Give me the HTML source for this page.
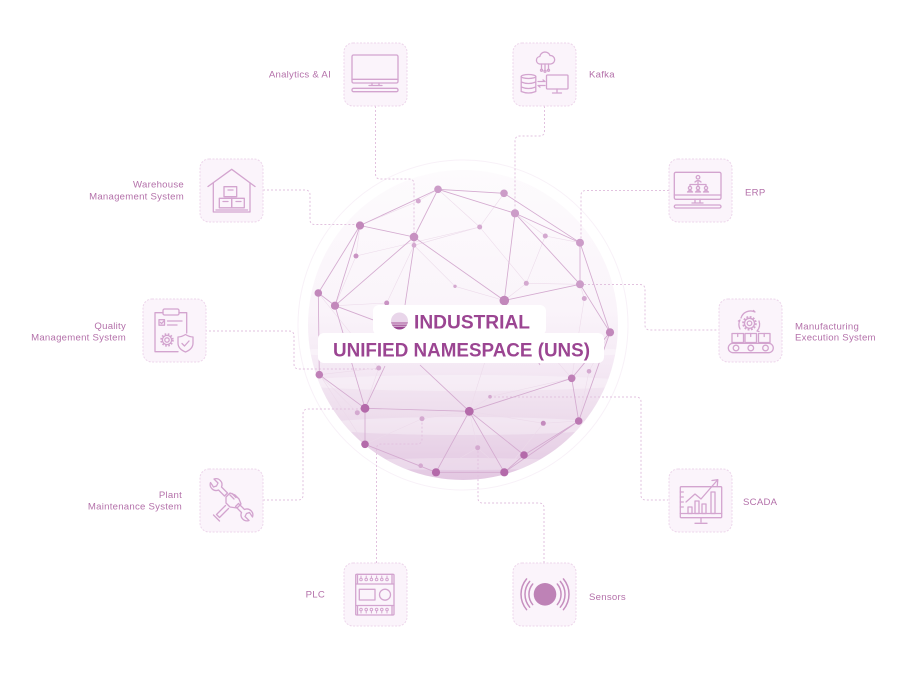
<!DOCTYPE html>
<html><head><meta charset="utf-8"><style>
html,body{margin:0;padding:0;background:#fff;}
svg{display:block;}
.lbl{font-family:"Liberation Sans",sans-serif;font-size:9.6px;fill:#b471aa;letter-spacing:0.25px;}
.box{fill:#fbf4fb;stroke:#edd6eb;stroke-width:1;stroke-dasharray:2 1.5;}
.con{fill:none;stroke:#e2c2df;stroke-width:1;stroke-dasharray:2 2;}
.ic{fill:none;stroke:#d3a4cf;stroke-width:1.3;stroke-linejoin:round;stroke-linecap:round;}
.e{stroke:#d4abd0;stroke-width:0.85;}
.f{stroke:#ecdaea;stroke-width:0.55;}
</style></head><body>
<svg width="905" height="696" viewBox="0 0 905 696" xmlns="http://www.w3.org/2000/svg">
<defs>
<linearGradient id="gg" x1="0" y1="0" x2="0" y2="1">
<stop offset="0" stop-color="#fdfbfd"/>
<stop offset="0.45" stop-color="#faf4fa"/>
<stop offset="0.62" stop-color="#f5eaf5"/>
<stop offset="0.78" stop-color="#eedeed"/>
<stop offset="0.9" stop-color="#e8d2e7"/>
<stop offset="1" stop-color="#e3c8e2"/>
</linearGradient>
<clipPath id="gc"><circle cx="463" cy="325" r="155"/></clipPath>
<clipPath id="tc"><circle cx="399.5" cy="321" r="8.5"/></clipPath>
</defs>

<circle cx="463" cy="325" r="165" fill="none" stroke="#f8f1f8" stroke-width="1"/>
<circle cx="463" cy="325" r="155" fill="url(#gg)"/>
<g clip-path="url(#gc)">
<ellipse cx="463" cy="352" rx="170" ry="6" fill="#ffffff" opacity="0.35"/>
<ellipse cx="463" cy="383" rx="170" ry="8" fill="#ffffff" opacity="0.3"/>
<ellipse cx="463" cy="426" rx="150" ry="9" fill="#ffffff" opacity="0.3"/>
<ellipse cx="463" cy="464" rx="120" ry="6" fill="#ffffff" opacity="0.25"/>
</g>

<path class="con" d="M375.5,106 V174 q0,5 5,5 H409 q5,0 5,5 V237"/>
<path class="con" d="M544.5,106 V131 q0,5 -5,5 H520 q-5,0 -5,5 V213"/>
<path class="con" d="M263,190 H305 q5,0 5,5 V219.5 q0,5 5,5 H360"/>
<path class="con" d="M669,190.5 H586 q-5,0 -5,5 V243"/>
<path class="con" d="M580,284.5 H640 q5,0 5,5 V325 q0,5 5,5 H719"/>
<path class="con" d="M205,331 H289 q5,0 5,5 V364 q0,5 5,5 H379"/>
<path class="con" d="M263,500 H298 q5,0 5,-5 V414 q0,-5 5,-5 H365"/>
<path class="con" d="M376.5,563 V449 q0,-5 5,-5 H417 q5,0 5,-5 V419"/>
<path class="con" d="M544,563 V508 q0,-5 -5,-5 H483 q-5,0 -5,-5 V448"/>
<path class="con" d="M490,397 H636 q5,0 5,5 V495 q0,5 5,5 H668"/>

<g class="f">
<line x1="360" y1="225.5" x2="356" y2="256"/>
<line x1="356" y1="256" x2="479.7" y2="227"/>
<line x1="418.3" y1="201" x2="438" y2="189.3"/>
<line x1="418.3" y1="201" x2="360" y2="225.5"/>
<line x1="479.7" y1="227" x2="504" y2="193.3"/>
<line x1="479.7" y1="227" x2="526.3" y2="283.3"/>
<line x1="479.7" y1="227" x2="414" y2="245.3"/>
<line x1="545.3" y1="236" x2="580" y2="242.7"/>
<line x1="545.3" y1="236" x2="515" y2="213.3"/>
<line x1="545.3" y1="236" x2="526.3" y2="283.3"/>
<line x1="526.3" y1="283.3" x2="580" y2="284.3"/>
<line x1="526.3" y1="283.3" x2="504.3" y2="300.5"/>
<line x1="455" y1="286.3" x2="504.3" y2="300.5"/>
<line x1="455" y1="286.3" x2="414" y2="245.3"/>
<line x1="356" y1="256" x2="335" y2="305.7"/>
<line x1="414" y1="245.3" x2="386.7" y2="303"/>
<line x1="378.7" y1="368" x2="319.3" y2="374.7"/>
<line x1="378.7" y1="368" x2="318.3" y2="293"/>
<line x1="378.7" y1="368" x2="365" y2="408.3"/>
<line x1="490" y1="396.7" x2="469.3" y2="411.3"/>
<line x1="490" y1="396.7" x2="571.7" y2="378.3"/>
<line x1="422" y1="418.7" x2="365" y2="444.3"/>
<line x1="422" y1="418.7" x2="469.3" y2="411.3"/>
<line x1="543.3" y1="423.3" x2="578.7" y2="421"/>
<line x1="543.3" y1="423.3" x2="469.3" y2="411.3"/>
<line x1="543.3" y1="423.3" x2="504.3" y2="472.3"/>
<line x1="477.7" y1="447.7" x2="469.3" y2="411.3"/>
<line x1="477.7" y1="447.7" x2="504.3" y2="472.3"/>
<line x1="477.7" y1="447.7" x2="436" y2="472.3"/>
<line x1="589" y1="371.3" x2="610" y2="332.3"/>
<line x1="589" y1="371.3" x2="578.7" y2="421"/>
<line x1="584.3" y1="298.5" x2="580" y2="284.3"/>
<line x1="584.3" y1="298.5" x2="571.7" y2="378.3"/>
<line x1="357.3" y1="412.7" x2="365" y2="408.3"/>
<line x1="357.3" y1="412.7" x2="319.3" y2="374.7"/>
<line x1="420.7" y1="465.7" x2="365" y2="444.3"/>
<line x1="320" y1="375" x2="365" y2="444.3"/>
<line x1="504.3" y1="300.5" x2="469.3" y2="411.3"/>
<line x1="504.3" y1="300.5" x2="571.7" y2="378.3"/>
<line x1="610" y1="332.3" x2="578.7" y2="421"/>
<line x1="335" y1="305.7" x2="386.7" y2="303"/>
<line x1="438" y1="189.3" x2="479.7" y2="227"/>
</g>

<g class="e">
<line x1="360" y1="225.5" x2="438" y2="189.3"/>
<line x1="438" y1="189.3" x2="414" y2="237"/>
<line x1="360" y1="225.5" x2="414" y2="237"/>
<line x1="360" y1="225.5" x2="318.3" y2="293"/>
<line x1="360" y1="225.5" x2="335" y2="305.7"/>
<line x1="414" y1="237" x2="335" y2="305.7"/>
<line x1="414" y1="237" x2="504.3" y2="300.5"/>
<line x1="414" y1="237" x2="414" y2="245.3"/>
<line x1="414" y1="245.3" x2="405" y2="305"/>
<line x1="438" y1="189.3" x2="504" y2="193.3"/>
<line x1="438" y1="189.3" x2="515" y2="213.3"/>
<line x1="504" y1="193.3" x2="580" y2="242.7"/>
<line x1="515" y1="213.3" x2="580" y2="242.7"/>
<line x1="515" y1="213.3" x2="504.3" y2="300.5"/>
<line x1="515" y1="213.3" x2="580" y2="284.3"/>
<line x1="504.3" y1="300.5" x2="580" y2="284.3"/>
<line x1="580" y1="242.7" x2="580" y2="284.3"/>
<line x1="580" y1="242.7" x2="610" y2="332.3"/>
<line x1="580" y1="284.3" x2="610" y2="332.3"/>
<line x1="318.3" y1="293" x2="335" y2="305.7"/>
<line x1="318.3" y1="293" x2="319.3" y2="374.7"/>
<line x1="335" y1="305.7" x2="365" y2="408.3"/>
<line x1="335" y1="305.7" x2="386.7" y2="325"/>
<line x1="319.3" y1="374.7" x2="365" y2="408.3"/>
<line x1="365" y1="408.3" x2="469.3" y2="411.3"/>
<line x1="365" y1="408.3" x2="365" y2="444.3"/>
<line x1="365" y1="408.3" x2="385" y2="366"/>
<line x1="365" y1="444.3" x2="436" y2="472.3"/>
<line x1="469.3" y1="411.3" x2="571.7" y2="378.3"/>
<line x1="469.3" y1="411.3" x2="504.3" y2="472.3"/>
<line x1="469.3" y1="411.3" x2="436" y2="472.3"/>
<line x1="469.3" y1="411.3" x2="524" y2="455"/>
<line x1="469.3" y1="411.3" x2="420" y2="365"/>
<line x1="571.7" y1="378.3" x2="610" y2="332.3"/>
<line x1="571.7" y1="378.3" x2="578.7" y2="421"/>
<line x1="610" y1="332.3" x2="578.7" y2="421"/>
<line x1="578.7" y1="421" x2="524" y2="455"/>
<line x1="578.7" y1="421" x2="504.3" y2="472.3"/>
<line x1="524" y1="455" x2="504.3" y2="472.3"/>
<line x1="436" y1="472.3" x2="504.3" y2="472.3"/>
<line x1="504.3" y1="300.5" x2="540" y2="365"/>
</g>

<g fill="#d4a9d0">
<circle cx="438" cy="189.3" r="3.8" fill="#cc9cc8"/>
<circle cx="504" cy="193.3" r="3.8" fill="#cc9cc8"/>
<circle cx="515" cy="213.3" r="4.1" fill="#cc9cc8"/>
<circle cx="418.3" cy="201" r="2.5"/>
<circle cx="360" cy="225.5" r="4.1" fill="#c288bb"/>
<circle cx="414" cy="237" r="4.3" fill="#c791c1"/>
<circle cx="414" cy="245.3" r="2.4"/>
<circle cx="479.7" cy="227" r="2.5"/>
<circle cx="545.3" cy="236" r="2.5"/>
<circle cx="580" cy="242.7" r="4" fill="#cc9cc8"/>
<circle cx="356" cy="256" r="2.5" fill="#c993c3"/>
<circle cx="526.3" cy="283.3" r="2.5"/>
<circle cx="455" cy="286.3" r="1.7"/>
<circle cx="580" cy="284.3" r="4" fill="#cc9cc8"/>
<circle cx="584.3" cy="298.5" r="2.5"/>
<circle cx="318.3" cy="293" r="3.8" fill="#c288bb"/>
<circle cx="335" cy="305.7" r="4.1" fill="#c288bb"/>
<circle cx="504.3" cy="300.5" r="4.8" fill="#c288bb"/>
<circle cx="386.7" cy="303" r="2.5" fill="#c993c3"/>
<circle cx="610" cy="332.3" r="4.1" fill="#c288bb"/>
<circle cx="319.3" cy="374.7" r="3.8" fill="#bf80b7"/>
<circle cx="378.7" cy="368" r="2.5"/>
<circle cx="571.7" cy="378.3" r="3.8" fill="#bf80b7"/>
<circle cx="589" cy="371.3" r="2.3"/>
<circle cx="490" cy="396.7" r="1.8"/>
<circle cx="365" cy="408.3" r="4.4" fill="#b46aaa"/>
<circle cx="357.3" cy="412.7" r="2.5"/>
<circle cx="469.3" cy="411.3" r="4.4" fill="#b46aaa"/>
<circle cx="422" cy="418.7" r="2.5"/>
<circle cx="543.3" cy="423.3" r="2.5" fill="#c48bbd"/>
<circle cx="578.7" cy="421" r="3.8" fill="#bb78b2"/>
<circle cx="365" cy="444.3" r="3.8" fill="#b46aaa"/>
<circle cx="477.7" cy="447.7" r="2.5"/>
<circle cx="524" cy="455" r="3.8" fill="#b46aaa"/>
<circle cx="420.7" cy="465.7" r="2.3"/>
<circle cx="436" cy="472.3" r="4.1" fill="#b46aaa"/>
<circle cx="504.3" cy="472.3" r="4.1" fill="#b46aaa"/>
</g>

<rect x="373" y="305" width="173" height="30" rx="6" fill="#ffffff"/>
<rect x="318" y="333" width="286" height="30" rx="6" fill="#ffffff"/>
<g clip-path="url(#tc)">
<rect x="390" y="312" width="20" height="20" fill="#e9d6ea"/>
<rect x="390" y="322" width="20" height="2" fill="#c894c1"/>
<rect x="390" y="324.5" width="20" height="2" fill="#b06aa6"/>
<rect x="390" y="327" width="20" height="4" fill="#9a4591"/>
</g>
<text x="414" y="328.5" font-family="Liberation Sans, sans-serif" font-weight="bold" font-size="19.5" fill="#9b4592" textLength="116" lengthAdjust="spacingAndGlyphs">INDUSTRIAL</text>
<text x="333" y="356.5" font-family="Liberation Sans, sans-serif" font-weight="bold" font-size="19.5" fill="#9b4592" textLength="257" lengthAdjust="spacingAndGlyphs">UNIFIED NAMESPACE (UNS)</text>

<rect class="box" x="344" y="43" width="63" height="63" rx="9"/>
<rect class="box" x="513" y="43" width="63" height="63" rx="9"/>
<rect class="box" x="200" y="159" width="63" height="63" rx="9"/>
<rect class="box" x="669" y="159" width="63" height="63" rx="9"/>
<rect class="box" x="143" y="299" width="63" height="63" rx="9"/>
<rect class="box" x="719" y="299" width="63" height="63" rx="9"/>
<rect class="box" x="200" y="469" width="63" height="63" rx="9"/>
<rect class="box" x="669" y="469" width="63" height="63" rx="9"/>
<rect class="box" x="344" y="563" width="63" height="63" rx="9"/>
<rect class="box" x="513" y="563" width="63" height="63" rx="9"/>

<g class="ic" transform="translate(344,43)">
<rect x="8" y="12" width="46" height="28" rx="1.5"/>
<line x1="8" y1="36.3" x2="54" y2="36.3"/>
<path d="M28,40 v2.5 M35,40 v2.5 M25,42.5 h13"/>
<rect x="8" y="45.3" width="46" height="3.4" rx="1.5"/>
</g>

<g class="ic" transform="translate(513,43)">
<path d="M26.5,21 a3.8,3.8 0 0 1 0.3,-7.5 a5.3,5.3 0 0 1 10.2,-1 a4.2,4.2 0 0 1 0.8,8.5 z"/>
<path d="M28.5,21 v5 M32,21 v6 M35.5,21 v5"/>
<circle cx="28.5" cy="27.3" r="1"/><circle cx="32" cy="28.3" r="1"/><circle cx="35.5" cy="27.3" r="1"/>
<ellipse cx="15.5" cy="33.5" rx="7.3" ry="2"/>
<path d="M8.2,33.5 V48.5 q7.3,3 14.6,0 V33.5 M8.2,39 q7.3,3 14.6,0 M8.2,44 q7.3,3 14.6,0"/>
<path d="M25,38.5 h7 l-2,-1.6 M32,42.5 h-7 l2,1.6"/>
<rect x="33.5" y="32" width="21.5" height="14" rx="1"/>
<path d="M44,46 v3 M39.5,50 h9"/>
</g>

<g class="ic" transform="translate(200,159)">
<path d="M8,27.5 L31.7,10.3 L55,27.5"/>
<path d="M13.3,24 V53 H50 V24"/>
<path d="M16,51 H47.5"/>
<rect x="24" y="27.7" width="12.7" height="10"/>
<rect x="19.3" y="39.3" width="12.4" height="9.5"/>
<rect x="31.7" y="39.3" width="12.6" height="9.5"/>
<path d="M28,31 h5 M23,42.5 h5 M36,42.5 h5"/>
</g>

<g class="ic" transform="translate(669,159)">
<rect x="5.3" y="13.3" width="46.7" height="27" rx="1.5"/>
<line x1="5.3" y1="36" x2="52" y2="36"/>
<path d="M26,40.3 v3.5 M31,40.3 v3.5 M23,44 h11"/>
<rect x="5.3" y="46" width="46.7" height="3" rx="1.5"/>
<circle cx="29" cy="18.3" r="1.8"/>
<path d="M26,23 q3,-3 6,0"/>
<path d="M29,23 v2.5 M21,25.5 h16 M21,25.5 v1.5 M29,25.5 v1.5 M37,25.5 v1.5"/>
<circle cx="21" cy="29" r="1.6"/><circle cx="29" cy="29" r="1.6"/><circle cx="37" cy="29" r="1.6"/>
<path d="M18.5,33 q2.5,-3 5,0 z M26.5,33 q2.5,-3 5,0 z M34.5,33 q2.5,-3 5,0 z"/>
</g>

<g class="ic" transform="translate(719,299)">
<circle cx="30.5" cy="24.3" r="2.3"/>
<circle cx="30.5" cy="24.3" r="5"/>
<circle cx="30.5" cy="24.3" r="6.3" stroke-dasharray="1.8 1.5" stroke-width="2" stroke-linecap="butt"/>
<path d="M22,19 a10,10 0 0 1 14,-6 l-1.5,-1.5"/>
<path d="M40,22 a10,10 0 0 1 -2,10 l2,0.5"/>
<path d="M21,30 a10,10 0 0 1 0,-9 l-1.6,1"/>
<rect x="13" y="34.5" width="11.5" height="9"/>
<rect x="26" y="34.5" width="11.5" height="9"/>
<rect x="39.5" y="34.5" width="11.5" height="9"/>
<path d="M18.7,34.5 v3 M31.7,34.5 v3 M45.2,34.5 v3"/>
<rect x="9.3" y="44.3" width="45" height="9.4" rx="4.7"/>
<circle cx="17" cy="49" r="2.8"/><circle cx="31.8" cy="49" r="2.8"/><circle cx="46.5" cy="49" r="2.8"/>
</g>

<g class="ic" transform="translate(143,299)">
<path d="M20,13.7 H12 V52.7 H35"/>
<path d="M36,13.7 H43.7 V34"/>
<rect x="20" y="10" width="16" height="6" rx="1.5"/>
<rect x="16" y="20.7" width="5.5" height="5.5"/>
<path d="M17.3,23.3 l1.3,1.3 l2.3,-2.6"/>
<path d="M24.5,22 H39 M24.5,26 H34"/>
<circle cx="24" cy="41" r="2.2"/>
<circle cx="24" cy="41" r="4.6"/>
<circle cx="24" cy="41" r="5.8" stroke-dasharray="1.6 1.5" stroke-width="1.9" stroke-linecap="butt"/>
<path d="M42.5,35.5 q-4,2.5 -7.5,2.5 v6 q0,6 7.5,9 q7.5,-3 7.5,-9 v-6 q-3.5,0 -7.5,-2.5 z"/>
<path d="M39,44.5 l2.5,2.5 l4.5,-5"/>
</g>

<g class="ic" transform="translate(200,469)">
<path d="M10.5,13.5 a6,6 0 0 0 8,7.5 l6,6 l3,-3 l-6,-6 a6,6 0 0 0 -7.5,-8 l4,4 l-1.5,3 l-3,1 z"/>
<path d="M52.5,48 a6,6 0 0 0 -8,-7.5 l-6,-6 l-3,3 l6,6 a6,6 0 0 0 7.5,8 l-4,-4 l1.5,-3 l3,-1 z"/>
<path d="M26,28 l4,-4 l5,2 l4,4 l2,5 l-4,4 l-7,-1 l-4,-4 z"/>
<path d="M25.5,36.5 l-9,9 l3,3 l9,-9"/>
<path d="M13.5,46 l6,6 M30,26 l4,4 M32,24.5 l4,4"/>
</g>

<g class="ic" transform="translate(669,469)">
<rect x="11.3" y="17.7" width="41.4" height="31" rx="1"/>
<line x1="11.3" y1="44.5" x2="52.7" y2="44.5"/>
<path d="M32,48.7 v4.3 M26,54.3 h12"/>
<path d="M11.3,23 h3 M11.3,28 h3 M11.3,33 h3 M11.3,38 h3"/>
<rect x="19" y="38" width="4" height="6.5"/>
<rect x="26" y="32" width="4" height="12.5"/>
<rect x="33" y="35" width="4" height="9.5"/>
<rect x="42" y="23" width="4" height="21.5"/>
<path d="M17,33 L26,25 L32,30 L48.5,11"/>
<path d="M43,11.5 L48.8,10.7 L48.3,16.5"/>
</g>

<g class="ic" transform="translate(344,563)">
<rect x="11.7" y="11.3" width="38.3" height="40.7" rx="1"/>
<path d="M11.7,21 H50 M11.7,42.5 H50 M13.5,11.3 V21 M48,11.3 V21 M13.5,42.5 V52 M48,42.5 V52"/>
<g stroke-width="1">
<circle cx="17" cy="16.5" r="1.3"/><circle cx="22.2" cy="16.5" r="1.3"/><circle cx="27.4" cy="16.5" r="1.3"/><circle cx="32.6" cy="16.5" r="1.3"/><circle cx="37.8" cy="16.5" r="1.3"/><circle cx="43" cy="16.5" r="1.3"/>
<circle cx="17" cy="46.5" r="1.3"/><circle cx="22.2" cy="46.5" r="1.3"/><circle cx="27.4" cy="46.5" r="1.3"/><circle cx="32.6" cy="46.5" r="1.3"/><circle cx="37.8" cy="46.5" r="1.3"/><circle cx="43" cy="46.5" r="1.3"/>
<path d="M17,13 v2 M22.2,13 v2 M27.4,13 v2 M32.6,13 v2 M37.8,13 v2 M43,13 v2 M17,48 v2 M22.2,48 v2 M27.4,48 v2 M32.6,48 v2 M37.8,48 v2 M43,48 v2"/>
</g>
<rect x="15.3" y="26.3" width="15.7" height="10.7"/>
<circle cx="41" cy="31.7" r="5.5"/>
</g>

<g transform="translate(513,563)">
<circle cx="32" cy="31.3" r="11.3" fill="#be82b6"/>
<g fill="none" stroke="#c68fbf" stroke-width="1.5" stroke-linecap="round">
<path d="M19.7,21 A16,16 0 0 0 19.7,41.6"/>
<path d="M16.7,18.4 A20,20 0 0 0 16.7,44.2"/>
<path d="M13.6,15.9 A24,24 0 0 0 13.6,46.7"/>
<path d="M44.3,21 A16,16 0 0 1 44.3,41.6"/>
<path d="M47.3,18.4 A20,20 0 0 1 47.3,44.2"/>
<path d="M50.4,15.9 A24,24 0 0 1 50.4,46.7"/>
</g>
</g>

<text class="lbl" x="331" y="77.5" text-anchor="end">Analytics &amp; AI</text>
<text class="lbl" x="589" y="77.5">Kafka</text>
<text class="lbl" x="184" y="187.7" text-anchor="end">Warehouse</text>
<text class="lbl" x="184" y="199.3" text-anchor="end">Management System</text>
<text class="lbl" x="745" y="195.7">ERP</text>
<text class="lbl" x="126" y="329" text-anchor="end">Quality</text>
<text class="lbl" x="126" y="340.7" text-anchor="end">Management System</text>
<text class="lbl" x="795" y="329.3">Manufacturing</text>
<text class="lbl" x="795" y="340.7">Execution System</text>
<text class="lbl" x="182" y="498" text-anchor="end">Plant</text>
<text class="lbl" x="182" y="509.5" text-anchor="end">Maintenance System</text>
<text class="lbl" x="743" y="505">SCADA</text>
<text class="lbl" x="325" y="597.5" text-anchor="end">PLC</text>
<text class="lbl" x="589" y="600">Sensors</text>
</svg>
</body></html>
